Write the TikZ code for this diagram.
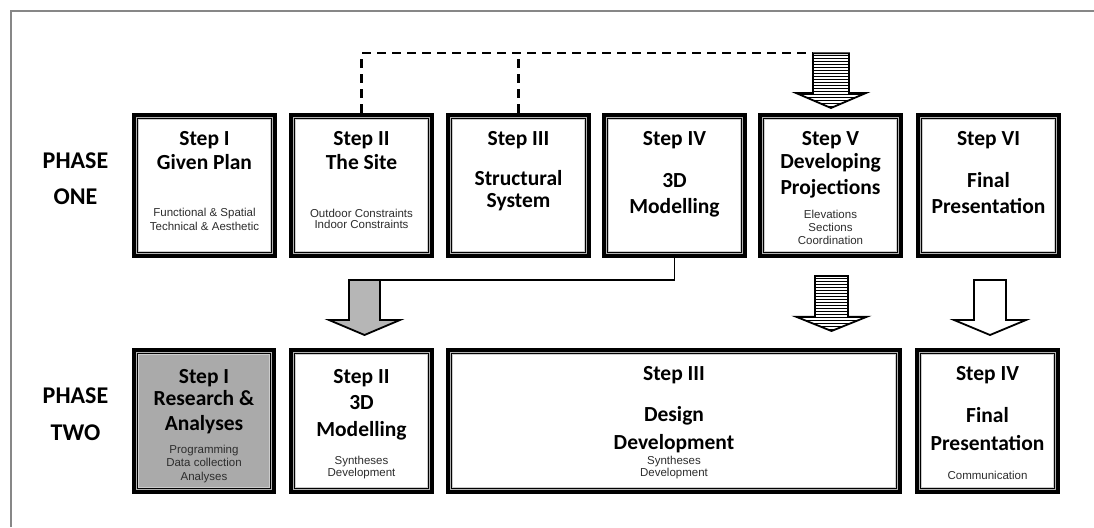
\documentclass[tikz,border=0pt]{standalone}
\usepackage{fontspec}
\setmainfont{Carlito}
\newfontfamily\arialf{Liberation Sans}
\usetikzlibrary{fit}
\definecolor{boxgray}{RGB}{170,170,170}
\definecolor{arrgray}{RGB}{182,182,182}
\definecolor{framegray}{RGB}{135,135,135}
\definecolor{subtext}{RGB}{45,45,45}

% name, x1, y1, x2, y2, fill
\newcommand\stepbox[6]{%
  \node[fit={(#2,#3)(#4,#5)}, inner sep=0pt, fill=black] (#1) {};
  \fill[gray!60] ([shift={(3.8,3.8)}]#1.north west) rectangle ([shift={(-3.8,-3.8)}]#1.south east);
  \fill[black] ([shift={(4.8,4.8)}]#1.north west) rectangle ([shift={(-4.8,-4.8)}]#1.south east);
  \fill[gray!40] ([shift={(6.2,6.2)}]#1.north west) rectangle ([shift={(-6.2,-6.2)}]#1.south east);
  \fill[#6] ([shift={(7.2,7.2)}]#1.north west) rectangle ([shift={(-7.2,-7.2)}]#1.south east);
}
% name, x, y, style, text
\newcommand\boxline[5]{\node[#4] (#1) at (#2,#3) {#5};}

\tikzset{
  ttl/.style={font=\fontsize{21.5}{24}\selectfont\bfseries, anchor=base, inner sep=0pt, text height=14.5pt, text depth=4pt},
  phs/.style={font=\fontsize{24}{28}\selectfont\bfseries, anchor=base, inner sep=0pt},
  sub/.style={font=\arialf\fontsize{11.5}{13}\selectfont, text=subtext, anchor=base, inner sep=0pt, text height=8.5pt, text depth=2pt},
  blockarrow/.style={draw=black, line width=1.8pt, line join=miter},
  dashconn/.style={draw=black, line width=2.4pt, dash pattern=on 9pt off 6pt},
  plainconn/.style={draw=black, line width=1.8pt},
}

\begin{document}
\begin{tikzpicture}[x=1pt,y=-1pt]
\useasboundingbox (0,0) rectangle (1094,527);
\fill[white] (0,0) rectangle (1094,527);

% frame
\coordinate (fbl) at (10.5,527);
\coordinate (ftl) at (10.5,10.7);
\coordinate (ftr) at (1094,10.7);
\draw[framegray, line width=2pt] (fbl) -- (ftl) -- (ftr);

% ---------- PHASE ONE boxes ----------
\stepbox{b1}{132}{113}{277}{258}{white}
\stepbox{b2}{289}{113}{434}{258}{white}
\stepbox{b3}{446}{113}{591}{258}{white}
\stepbox{b4}{602}{113}{747}{258}{white}
\stepbox{b5}{758}{113}{903}{258}{white}
\stepbox{b6}{916}{113}{1061}{258}{white}

% ---------- PHASE TWO boxes ----------
\stepbox{c1}{132}{348}{276}{494}{boxgray}
\stepbox{c2}{289}{348}{434}{494}{white}
\stepbox{c3}{446}{348}{902}{494}{white}
\stepbox{c4}{915}{348}{1060}{494}{white}

% phase labels
\boxline{pa1}{75.5}{168.5}{phs}{PHASE}
\boxline{pa2}{75.5}{204}{phs}{ONE}
\boxline{pb1}{75.5}{403.5}{phs}{PHASE}
\boxline{pb2}{75.5}{440.5}{phs}{TWO}

% ---------- texts phase one ----------
\boxline{b1a}{204.5}{145}{ttl}{Step I}
\boxline{b1b}{204.5}{169}{ttl}{Given Plan}
\boxline{b1c}{204.5}{216.7}{sub}{Functional \& Spatial}
\boxline{b1d}{204.5}{230.7}{sub}{Technical \& Aesthetic}

\boxline{b2a}{361.5}{145}{ttl}{Step II}
\boxline{b2b}{361.5}{169}{ttl}{The Site}
\boxline{b2c}{361.5}{217}{sub}{Outdoor Constraints}
\boxline{b2d}{361.5}{228.5}{sub}{Indoor Constraints}

\boxline{b3a}{518.5}{145}{ttl}{Step III}
\boxline{b3b}{518.5}{185.5}{ttl}{Structural}
\boxline{b3c}{518.5}{207.5}{ttl}{System}

\boxline{b4a}{674.5}{145}{ttl}{Step IV}
\boxline{b4b}{674.5}{187.5}{ttl}{3D}
\boxline{b4c}{674.5}{213.5}{ttl}{Modelling}

\boxline{b5a}{830.5}{145}{ttl}{Step V}
\boxline{b5b}{830.5}{168.5}{ttl}{Developing}
\boxline{b5c}{830.5}{194}{ttl}{Projections}
\boxline{b5d}{830.5}{218.3}{sub}{Elevations}
\boxline{b5e}{830.5}{231.7}{sub}{Sections}
\boxline{b5f}{830.5}{244.5}{sub}{Coordination}

\boxline{b6a}{988.5}{145}{ttl}{Step VI}
\boxline{b6b}{988.5}{187}{ttl}{Final}
\boxline{b6c}{988.5}{213.5}{ttl}{Presentation}

% ---------- texts phase two ----------
\boxline{c1a}{204}{383.5}{ttl}{Step I}
\boxline{c1b}{204}{405.5}{ttl}{Research \&}
\boxline{c1c}{204}{430}{ttl}{Analyses}
\boxline{c1d}{204}{453}{sub}{Programming}
\boxline{c1e}{204}{466.7}{sub}{Data collection}
\boxline{c1f}{204}{480}{sub}{Analyses}

\boxline{c2a}{361.5}{383.5}{ttl}{Step II}
\boxline{c2b}{361.5}{409}{ttl}{3D}
\boxline{c2c}{361.5}{436.7}{ttl}{Modelling}
\boxline{c2d}{361.5}{464}{sub}{Syntheses}
\boxline{c2e}{361.5}{476.7}{sub}{Development}

\boxline{c3a}{674}{380}{ttl}{Step III}
\boxline{c3b}{674}{421.3}{ttl}{Design}
\boxline{c3c}{674}{449}{ttl}{Development}
\boxline{c3d}{674}{464}{sub}{Syntheses}
\boxline{c3e}{674}{476.7}{sub}{Development}

\boxline{c4a}{987.5}{380.7}{ttl}{Step IV}
\boxline{c4b}{987.5}{422.3}{ttl}{Final}
\boxline{c4c}{987.5}{450.7}{ttl}{Presentation}
\boxline{c4d}{987.5}{479.3}{sub}{Communication}

% ---------- striped arrow into Step V (phase one) ----------
\coordinate (s1tl) at (813,53.3);
\begin{scope}
  \clip (813,53.3) -- (849,53.3) -- (849,93) -- (866,93) -- (831,108) -- (796,93) -- (813,93) -- cycle;
  \fill[white] (790,50) rectangle (870,110);
  \foreach \yy in {55.5,58.5,...,108} \draw[black, line width=0.9pt] (790,\yy) -- (870,\yy);
\end{scope}
\draw[blockarrow] (813,53.3) -- (849,53.3) -- (849,93) -- (866,93) -- (831,108) -- (796,93) -- (813,93) -- cycle;

% dashed connectors from Step II and Step III
\draw[dashconn] (b2.north) |- (s1tl);
\draw[dashconn] (b3.north) -- (b3.north |- s1tl);

% ---------- gray arrow into Step II (phase two) ----------
\coordinate (g1tr) at (380,280);
\fill[arrgray] (349,280) -- (380,280) -- (380,320) -- (400,320) -- (364.5,335) -- (329,320) -- (349,320) -- cycle;
\draw[blockarrow] (349,280) -- (380,280) -- (380,320) -- (400,320) -- (364.5,335) -- (329,320) -- (349,320) -- cycle;
\draw[plainconn] (b4.south) |- (g1tr);

% ---------- striped arrow into Step III (phase two) ----------
\begin{scope}
  \clip (815,276) -- (848,276) -- (848,316.7) -- (867,316.7) -- (831.5,331) -- (796,316.7) -- (815,316.7) -- cycle;
  \fill[white] (790,270) rectangle (870,335);
  \foreach \yy in {278.5,281.5,...,332} \draw[black, line width=0.9pt] (790,\yy) -- (870,\yy);
\end{scope}
\draw[blockarrow] (815,276) -- (848,276) -- (848,316.7) -- (867,316.7) -- (831.5,331) -- (796,316.7) -- (815,316.7) -- cycle;

% ---------- white arrow into Step IV (phase two) ----------
\draw[blockarrow, fill=white] (974,280) -- (1006,280) -- (1006,320) -- (1026,320) -- (990,335) -- (954,320) -- (974,320) -- cycle;

\end{tikzpicture}
\end{document}
